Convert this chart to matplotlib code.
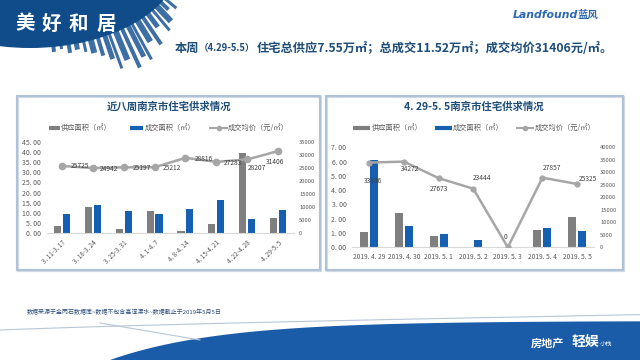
import numpy as np
import matplotlib.pyplot as plt
from matplotlib.patches import Rectangle, Polygon, Ellipse

plt.rcParams['font.family'] = ['Noto Sans CJK SC', 'DejaVu Sans']

W, H = 640, 360

# weekly data (left chart)
weeks = ['3. 11-3. 17', '3. 18-3. 24', '3. 25-3. 31', '4. 1-4. 7',
         '4. 8-4. 14', '4. 15-4. 21', '4. 22-4. 28', '4. 29-5. 5']
week_supply = [3.5, 13.0, 2.3, 10.8, 1.0, 4.6, 39.5, 7.55]
week_deal = [9.2, 14.0, 10.8, 9.5, 11.8, 16.5, 6.9, 11.52]
week_price = [25725, 24942, 25197, 25212, 28816, 27283, 28207, 31406]

# daily data (right chart)
days = ['2019. 4. 29', '2019. 4. 30', '2019. 5. 1', '2019. 5. 2',
        '2019. 5. 3', '2019. 5. 4', '2019. 5. 5']
day_supply = [1.05, 2.37, 0.78, 0.0, 0.0, 1.24, 2.11]
day_deal = [6.08, 1.50, 0.95, 0.49, 0.0, 1.33, 1.17]
day_price = [33896, 34272, 27673, 23444, 0, 27857, 25325]

legend_names = ['供应面积（㎡）', '成交面积（㎡）', '成交均价（元/㎡）']

GRAY = '#7F7F7F'
BLUE = '#1560B0'
LINE = '#A6A6A6'
NAVY = '#1F4E79'
TICK = '#595959'


def box(l, t, r, b):
    return [l / W, 1 - b / H, (r - l) / W, (b - t) / H]


fig = plt.figure(figsize=(6.4, 3.6), dpi=100)
fig.patch.set_facecolor('white')

# background axes in pixel coords (y down)
bg = fig.add_axes([0, 0, 1, 1])
bg.set_xlim(0, W)
bg.set_ylim(H, 0)
bg.axis('off')

# ---- header banner with skyline ----
cx, cy, a, b = 30, -40, 150, 88
skyline = [(14, 4, 10), (18, 3, 16), (22, 5, 12), (26, 3, 19), (29, 4, 14),
           (32, 6, 24), (35, 3, 30), (38, 5, 20), (41, 4, 36), (44, 6, 28),
           (47, 3, 44), (49, 5, 38), (52, 4, 46), (55, 6, 34), (58, 3, 40),
           (60, 5, 28), (63, 4, 22), (66, 6, 17), (69, 3, 14), (72, 5, 10),
           (75, 4, 12), (78, 3, 7), (81, 4, 9)]
for th, w, ln in skyline:
    t = np.radians(th)
    px, py = cx + a * np.cos(t), cy + b * np.sin(t)
    nx, ny = np.cos(t) / a, np.sin(t) / b
    n = np.hypot(nx, ny)
    nx, ny = nx / n, ny / n
    tx, ty = -ny, nx
    base = np.array([px - 4 * nx, py - 4 * ny])
    d = np.array([nx, ny]) * ln
    tv = np.array([tx, ty]) * w / 2
    bg.add_patch(Polygon([base + tv, base - tv, base - tv + d, base + tv + d],
                         closed=True, color='#3D6FA4', lw=0))
bg.add_patch(Ellipse((cx, cy), 2 * a, 2 * b, color='#0F4C89', lw=0))

for ch, x in zip('美好和居', [25, 51, 78, 106]):
    bg.text(x, 24, ch, color='white', fontsize=14, fontweight='bold',
            ha='center', va='center')

bg.text(578, 15, 'Landfound', color='#2E68B0', fontsize=7.8,
        fontweight='bold', fontstyle='italic', family='DejaVu Sans',
        ha='right', va='center')
bg.text(578, 15, '蓝风', color='#2E68B0', fontsize=7.5,
        fontweight='bold', ha='left', va='center')

bg.text(175, 48, '本周', color=NAVY, fontsize=8.8, fontweight='bold', va='center')
bg.text(199, 48.5, '（4.29-5.5）', color=NAVY, fontsize=6.8,
        fontweight='bold', va='center')
bg.text(257, 48, '住宅总供应7.55万㎡；总成交11.52万㎡；成交均价31406元/㎡。',
        color=NAVY, fontsize=8.8, fontweight='bold', va='center')

# ---- footer ----
xs = np.linspace(110, 640, 60)
top = 360 - 39 * (1 - np.exp(-(xs - 110) / 110))
bg.add_patch(Polygon(list(zip(xs, top)) + [(640, 360), (110, 360)],
                     closed=True, color='#1A5CA8', lw=0))
lx = np.linspace(0, 640, 80)
bg.plot(lx, 326 - 0.018 * lx + 4 * np.exp(-lx / 200), color='#B8C6D6', lw=0.8)
bg.plot([100, 200], [323, 340], color='#B8C6D6', lw=0.8)
bg.text(27, 312, '数据来源于金丙石数据库~数据不包含高淳溧水~数据截止于2019年5月5日',
        color='#2B4C7E', fontsize=4.3, va='center')
bg.text(531, 343, '房地产', color='white', fontsize=8, fontweight='bold', va='center')
bg.text(572, 342, '轻娱', color='white', fontsize=10, fontweight='bold', va='center')
bg.text(600, 344, '小栈', color='white', fontsize=4.5, va='center')

# ---- panels ----
for l, t, r, bt in [(17, 96, 320, 270), (326, 96, 623, 270)]:
    bg.add_patch(Rectangle((l + 1, t + 1), r - l, bt - t, fill=False,
                           ec='#D5DEE8', lw=1.6))
    bg.add_patch(Rectangle((l, t), r - l, bt - t, fill=False,
                           ec='#AFC2D6', lw=1.6))


def legend(items_x, y):
    kinds = ['bar_g', 'bar_b', 'line']
    for kind, (x0, x1, tx), name in zip(kinds, items_x, legend_names):
        if kind == 'line':
            bg.plot([x0, x1], [y, y], color=LINE, lw=1.5)
            bg.plot([(x0 + x1) / 2], [y], 'o', color=LINE, ms=3)
        else:
            bg.plot([x0, x1], [y, y], color=GRAY if kind == 'bar_g' else BLUE,
                    lw=3, solid_capstyle='butt')
        bg.text(tx, y, name, color=TICK, fontsize=5.2, va='center')


def chart(rect, cats, supply, deal, price, ymax, y2max, offsets, rotate,
          title, title_x, leg_x, ms):
    ax = fig.add_axes(rect)
    x = np.arange(len(cats))
    ax.bar(x - 0.145, supply, width=0.23, color=GRAY)
    ax.bar(x + 0.145, deal, width=0.23, color=BLUE)
    ax.set_xlim(-0.5, len(cats) - 0.5)
    ax.set_ylim(0, ymax)
    ax.set_yticks(np.arange(0, ymax + 0.1, 5 if ymax > 10 else 1))
    ax.set_yticklabels([f'{v:.2f}'.replace('.', '. ') for v in ax.get_yticks()],
                       fontsize=5, color=TICK)
    ax.set_xticks(x)
    if rotate:
        ax.set_xticklabels(cats, rotation=45, ha='right', rotation_mode='anchor',
                           fontsize=4.6, color=TICK)
    else:
        ax.set_xticklabels(cats, fontsize=4.8, color=TICK)
    ax.tick_params(length=0, pad=4)
    for s in ['top', 'left', 'right']:
        ax.spines[s].set_visible(False)
    ax.spines['bottom'].set_color('#D9D9D9')

    ax2 = ax.twinx()
    ax2.plot(x, price, color=LINE, lw=1.8, marker='o', ms=ms, zorder=3)
    ax2.set_ylim(0, y2max)
    ax2.set_yticks(np.arange(0, y2max + 1, 5000))
    ax2.set_yticklabels([str(int(v)) for v in ax2.get_yticks()],
                        fontsize=4.2, color=TICK)
    ax2.tick_params(length=0, pad=4)
    for s in ax2.spines.values():
        s.set_visible(False)
    for xi, v, (dx, dy) in zip(x, price, offsets):
        ax2.annotate(str(v), (xi, v), xytext=(dx, dy), textcoords='offset pixels',
                     ha='center', va='center', fontsize=4.8, color='#404040')

    bg.text(title_x, 106.5, title, color=NAVY, fontsize=7.5, fontweight='bold',
            ha='center', va='center')
    legend(leg_x, 128.3)
    return ax


chart(box(46.5, 141.7, 293.5, 233.2), weeks, week_supply, week_deal, week_price,
      45, 35000,
      [(18, 0), (16, -1), (18, -1), (17, -1), (18, -1), (17, -1), (10, -9), (-3, -11)],
      True, '近八周南京市住宅供求情况', 169,
      [(49, 60, 61), (130, 143, 145), (210, 227, 228)], 4.5)

chart(box(352, 147.3, 594.4, 247.3), days, day_supply, day_deal, day_price,
      7, 40000,
      [(4, -18), (6, -7), (0, -11), (9, 11), (-2, 10), (10, 10), (11, 5)],
      False, '4. 29-5. 5南京市住宅供求情况', 474,
      [(353, 370, 372), (435, 452, 453), (517, 533, 535)], 3.5)

fig.savefig('out.png', dpi=100)
